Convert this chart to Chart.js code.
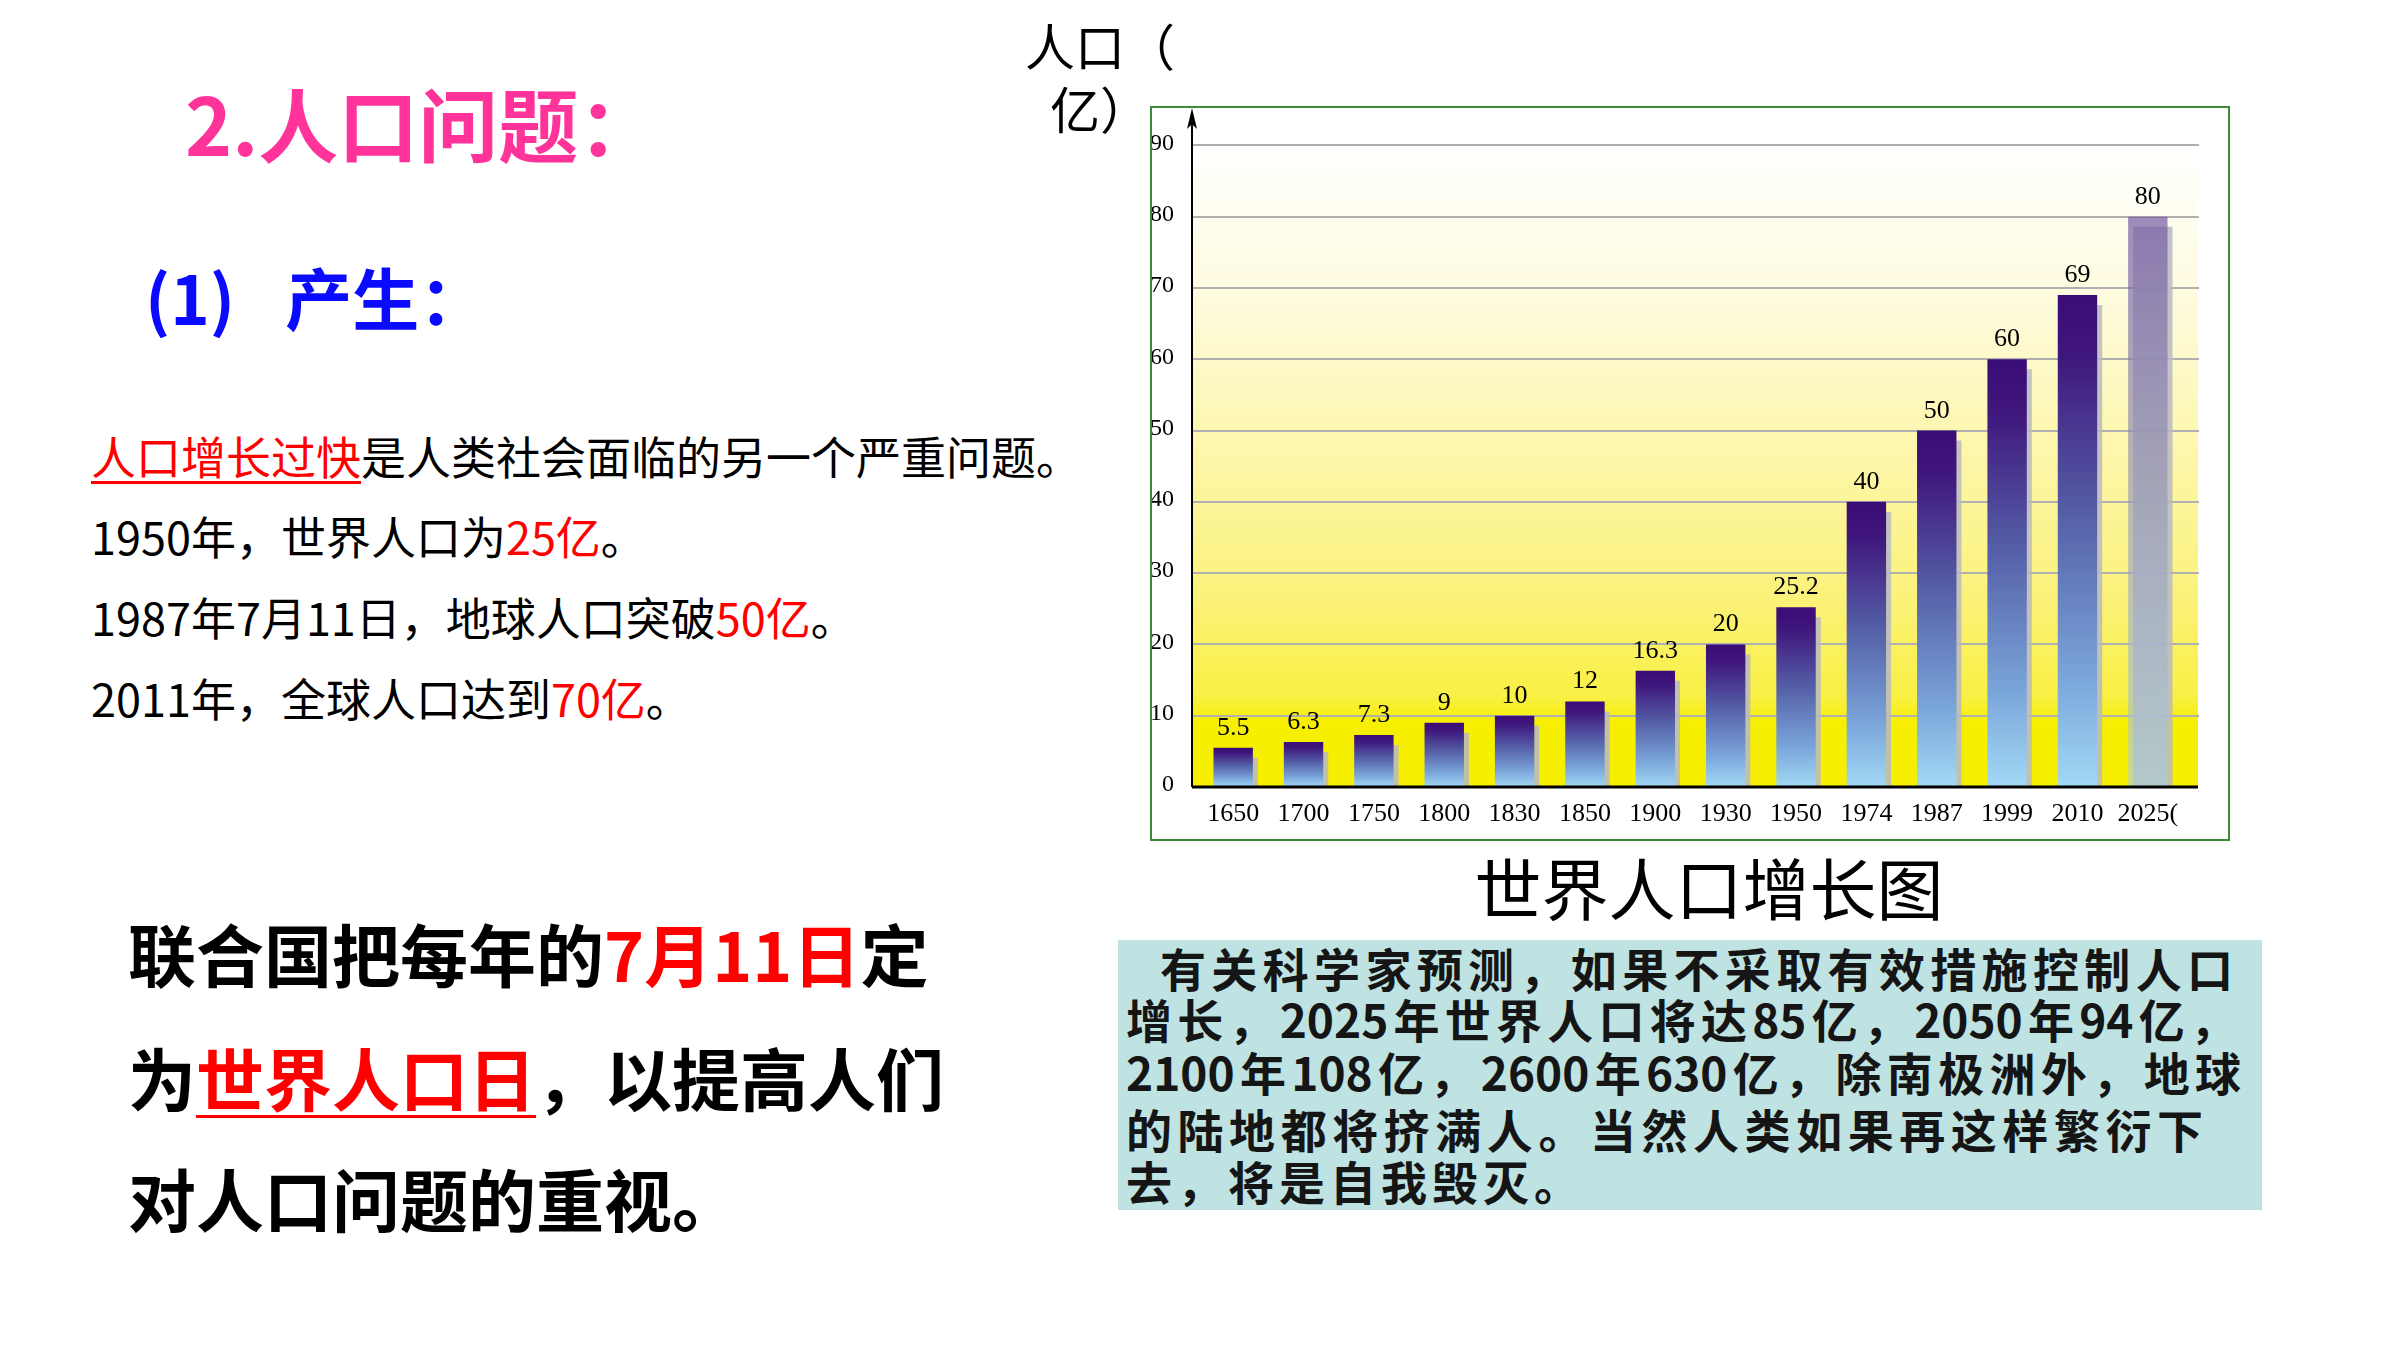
<!DOCTYPE html>
<html>
<head>
<meta charset="utf-8">
<script src="https://cdn.jsdelivr.net/npm/chart.js@4"></script>
<style>
  body { margin:0; width:2400px; height:1350px; background:#fff; position:relative; overflow:hidden;
         font-family:"Noto Sans CJK SC","Noto Sans",sans-serif; color:#000; }
  .t { position:absolute; white-space:nowrap; }
  .red { color:#ff0000; }
  .body { font-size:45px; line-height:60px; left:91px; }
  .big { font-size:68px; line-height:90px; left:128px; font-weight:700; }
  #frame { position:absolute; left:1150px; top:106px; width:1080px; height:735px; box-sizing:border-box;
           border:2px solid #3a8a3a; pointer-events:none; z-index:2; }
  #c { position:absolute; left:1151px; top:107px; }
  #note { position:absolute; left:1118px; top:940px; width:1144px; height:270px; background:#bfe3e2; }
  #note div { position:absolute; font-size:46px; line-height:50px; font-weight:700; color:#151515; white-space:nowrap; }
  #note .j { text-align:justify; text-align-last:justify; }
</style>
</head>
<body>

<div class="t" style="left:185px;top:71px;font-size:80px;line-height:100px;font-weight:700;color:#ff3399">2.人口问题：</div>
<div class="t" style="left:145px;top:256px;font-size:67px;line-height:80px;font-weight:700;color:#0a0aff">(1)<span style="margin-left:50px">产生：</span></div>

<div class="t body" style="top:426px"><span class="red" style="text-decoration:underline;text-decoration-thickness:3px;text-underline-offset:6px">人口增长过快</span>是人类社会面临的另一个严重问题。</div>
<div class="t body" style="top:506px">1950年，世界人口为<span class="red">25亿</span>。</div>
<div class="t body" style="top:587px">1987年7月11日，地球人口突破<span class="red">50亿</span>。</div>
<div class="t body" style="top:668px">2011年，全球人口达到<span class="red">70亿</span>。</div>

<div class="t big" style="top:908px">联合国把每年的<span class="red">7月11日</span>定</div>
<div class="t big" style="top:1032px">为<span class="red" style="text-decoration:underline;text-decoration-thickness:3px;text-underline-offset:9px">世界人口日</span>，以提高人们</div>
<div class="t big" style="top:1153px">对人口问题的重视。</div>

<div class="t" style="left:1000px;top:13px;width:200px;text-align:center;font-size:50px;line-height:63px">人口（<br>亿）</div>
<div class="t" style="left:1409px;top:841px;width:600px;text-align:center;font-size:67px;line-height:90px">世界人口增长图</div>

<canvas id="c" width="1078" height="733"></canvas>
<div id="frame"></div>

<div id="note">
  <div class="j" style="left:42px;top:2px;width:1073px">有关科学家预测，如果不采取有效措施控制人口</div>
  <div class="j" style="left:8px;top:53px;width:1110px">增长，2025年世界人口将达85亿，2050年94亿，</div>
  <div class="j" style="left:8px;top:106px;width:1115px">2100年108亿，2600年630亿，除南极洲外，地球</div>
  <div class="j" style="left:8px;top:163px;width:1077px">的陆地都将挤满人。当然人类如果再这样繁衍下</div>
  <div style="left:8px;top:215px;letter-spacing:5px">去，将是自我毁灭。</div>
</div>

<script>
const years = ["1650", "1700", "1750", "1800", "1830", "1850", "1900", "1930", "1950", "1974", "1987", "1999", "2010", "2025("];
const population = [5.5, 6.3, 7.3, 9, 10, 12, 16.3, 20, 25.2, 40, 50, 60, 69, 80];
const yTicks = [0, 10, 20, 30, 40, 50, 60, 70, 80, 90];

const serif = '"Liberation Serif", "DejaVu Serif", serif';

// each bar gets its own dark-top / light-bottom gradient
function barFill(c) {
  const chart = c.chart, y = chart.scales.y;
  if (c.type !== 'data' || !y) return '#3d0f78';
  const top = y.getPixelForValue(c.raw), base = y.getPixelForValue(0);
  if (!isFinite(top) || !isFinite(base) || base <= top) return '#3d0f78';
  const g = chart.ctx.createLinearGradient(0, top, 0, base);
  if (c.dataIndex === years.length - 1) {
    // projected value, drawn faded
    g.addColorStop(0, 'rgba(112,84,162,0.68)');
    g.addColorStop(0.45, 'rgba(145,145,180,0.64)');
    g.addColorStop(1, 'rgba(170,205,228,0.6)');
  } else {
    g.addColorStop(0, '#3b0c77');
    g.addColorStop(0.12, '#3f167c');
    g.addColorStop(0.45, '#5560a8');
    g.addColorStop(0.78, '#7ba6da');
    g.addColorStop(1, '#a2d9f5');
  }
  return g;
}

const decor = {
  id: 'decor',
  beforeDatasetsDraw(chart) {
    const { ctx, chartArea: a, scales: { y } } = chart;
    const axisX = a.left - 6, right = a.right + 15;
    const base = y.getPixelForValue(yTicks[0]);
    const top = y.getPixelForValue(yTicks[yTicks.length - 1]);
    ctx.save();
    const bg = ctx.createLinearGradient(0, top, 0, base);
    bg.addColorStop(0, '#ffffff');
    bg.addColorStop(0.25, '#fefbdc');
    bg.addColorStop(0.5, '#fdf6a6');
    bg.addColorStop(0.7, '#fbf27c');
    bg.addColorStop(0.86, '#f9f044');
    bg.addColorStop(0.9, '#f7ef00');
    bg.addColorStop(1, '#f7ef00');
    ctx.fillStyle = bg;
    ctx.fillRect(axisX, top + 6, right - axisX, base - top - 6);

    ctx.strokeStyle = '#b0b0b0';
    ctx.lineWidth = 2;
    yTicks.slice(1).forEach(v => {
      const py = Math.round(y.getPixelForValue(v));
      ctx.beginPath();
      ctx.moveTo(axisX, py);
      ctx.lineTo(right + 1, py);
      ctx.stroke();
    });

    // soft shadow to the right of each bar
    ctx.fillStyle = 'rgba(185,185,195,0.85)';
    chart.getDatasetMeta(0).data.forEach(b => {
      ctx.fillRect(b.x - b.width / 2 + 5, b.y + 10, b.width, b.base - b.y - 10);
    });
    ctx.restore();
  },
  afterDatasetsDraw(chart) {
    const { ctx, chartArea: a, scales: { y } } = chart;
    const axisX = a.left - 6, right = a.right + 15;
    const base = y.getPixelForValue(0);
    ctx.save();
    ctx.strokeStyle = '#000';
    ctx.lineWidth = 3;
    ctx.beginPath();
    ctx.moveTo(axisX, base);
    ctx.lineTo(right, base);
    ctx.stroke();

    ctx.lineWidth = 2;
    ctx.beginPath();
    ctx.moveTo(axisX, base);
    ctx.lineTo(axisX, 14);
    ctx.stroke();
    ctx.fillStyle = '#000';
    ctx.beginPath();
    ctx.moveTo(axisX, 1);
    ctx.lineTo(axisX + 5, 22);
    ctx.lineTo(axisX, 17);
    ctx.lineTo(axisX - 5, 22);
    ctx.closePath();
    ctx.fill();

    ctx.font = '26px ' + serif;
    ctx.textAlign = 'center';
    ctx.textBaseline = 'alphabetic';
    chart.getDatasetMeta(0).data.forEach((b, i) => {
      ctx.fillText(String(population[i]), b.x, b.y - 13);
    });
    ctx.restore();
  }
};

new Chart(document.getElementById('c'), {
  type: 'bar',
  data: {
    labels: years,
    datasets: [{
      data: population,
      backgroundColor: barFill,
      borderWidth: 0,
      categoryPercentage: 1,
      barPercentage: 0.56
    }]
  },
  options: {
    responsive: false,
    devicePixelRatio: 1,
    animation: false,
    layout: { padding: { top: 34, right: 46, bottom: 0, left: 0 } },
    plugins: { legend: { display: false }, tooltip: { enabled: false } },
    scales: {
      x: {
        grid: { display: false, drawTicks: false },
        border: { display: false },
        ticks: { color: '#000', font: { family: serif, size: 26 }, padding: 12, maxRotation: 0, autoSkip: false },
        afterFit: s => { s.height = 53; }
      },
      y: {
        min: yTicks[0],
        max: yTicks[yTicks.length - 1],
        grid: { display: false, drawTicks: false },
        border: { display: false },
        ticks: { stepSize: 10, color: '#000', font: { family: serif, size: 24 }, padding: 24, labelOffset: -2 },
        afterFit: s => { s.width = 47; }
      }
    }
  },
  plugins: [decor]
});
</script>
</body>
</html>
